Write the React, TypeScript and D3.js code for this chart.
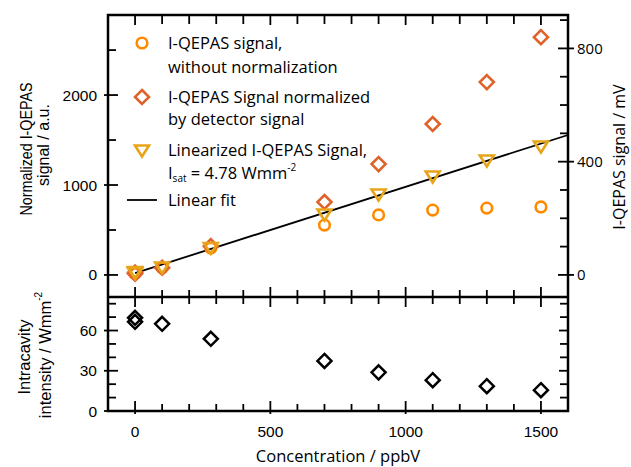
import * as d3 from 'd3';

// concentration in ppbV (two measurements at zero)
const concentration = [0, 0, 100, 280, 700, 900, 1100, 1300, 1500];
// I-QEPAS signal without normalization, mV (right axis)
const rawSignal = [5, 8, 25, 95, 176, 212, 229, 236, 240];
// normalized by detector signal, a.u.
const normalizedSignal = [14, 26, 80, 320, 811, 1233, 1678, 2144, 2644];
// linearized signal, a.u.
const linearizedSignal = [14, 26, 78, 295, 667, 889, 1089, 1267, 1422];
// intracavity intensity, W/mm^2
const intracavityIntensity = [69.5, 66.5, 65, 53.8, 37.3, 28.8, 23, 18.5, 15.5];

const fitIntercept = 20;
const fitSlope = 0.96;
const fitRange = [0, 1600];

const xTicks = [0, 500, 1000, 1500];
const leftTicks = [0, 1000, 2000];
const rightTicks = [0, 400, 800];
const intensityTicks = [0, 30, 60];

const ORANGE = '#ff8a00';
const RED = '#e0622a';
const GOLD = '#e8a418';
const tickFont = '"Liberation Sans", Arial, sans-serif';
const textFont = '"Open Sans", sans-serif';

export default function App() {
  const width = 631;
  const height = 467;
  const left = 108;
  const right = 568;
  const top = 15;
  const mid = 297;
  const bottom = 411;

  const x = d3.scaleLinear().domain([-100, 1600]).range([left, right]);
  const yL = d3.scaleLinear().domain([-245, 2890]).range([mid, top]);
  const yR = d3.scaleLinear().domain([-78, 918]).range([mid, top]);
  const yB = d3.scaleLinear().domain([0, 85]).range([bottom, mid]);

  const xMinor = d3.range(-100, 1601, 100).filter((v) => !xTicks.includes(v));
  const leftMinor = d3.range(0, 2900, 500).filter((v) => !leftTicks.includes(v));
  const rightMinor = d3.range(0, 918, 100).filter((v) => !rightTicks.includes(v));
  const bMinor = d3.range(10, 85, 10).filter((v) => !intensityTicks.includes(v));

  const fitLine = d3
    .line<number>()
    .x((d) => x(d))
    .y((d) => yL(fitIntercept + fitSlope * d));

  const diamond = (cx: number, cy: number, r: number) =>
    `M${cx},${cy - r}L${cx + r},${cy}L${cx},${cy + r}L${cx - r},${cy}Z`;
  const triangle = (cx: number, cy: number, w: number, h: number) =>
    `M${cx - w / 2},${cy - h / 2}L${cx + w / 2},${cy - h / 2}L${cx},${cy + h / 2}Z`;

  const sw = 1.8;
  const tick = (x1: number, y1: number, x2: number, y2: number, k: string) => (
    <line key={k} x1={x1} y1={y1} x2={x2} y2={y2} stroke='#000' strokeWidth={sw} />
  );

  return (
    <div>
      <style>{`body{margin:0}`}</style>
      <svg width={width} height={height} style={{ display: 'block', overflow: 'hidden' }}>
        <rect width={width} height={height} fill='#fff' />

        {/* frames */}
        <rect x={left} y={top} width={right - left} height={bottom - top} fill='none' stroke='#000' strokeWidth={2.5} />
        <line x1={left} x2={right} y1={mid} y2={mid} stroke='#000' strokeWidth={2.5} />

        {/* x ticks: top edge, middle, bottom edge */}
        {xTicks.map((v) => (
          <g key={'xm' + v}>
            {tick(x(v), top, x(v), top + 10, 't')}
            {tick(x(v), mid - 10, x(v), mid + 10, 'm')}
            {tick(x(v), bottom - 10, x(v), bottom + 3, 'b')}
          </g>
        ))}
        {xMinor.map((v) => (
          <g key={'xn' + v}>
            {tick(x(v), top, x(v), top + 9, 't')}
            {tick(x(v), mid - 7, x(v), mid + 7, 'm')}
            {tick(x(v), bottom - 7, x(v), bottom, 'b')}
          </g>
        ))}

        {/* left axis top panel */}
        {leftTicks.map((v) => tick(left - 4, yL(v), left + 10, yL(v), 'l' + v))}
        {leftMinor.map((v) => tick(left, yL(v), left + 8, yL(v), 'ln' + v))}
        {leftTicks.map((v) => (
          <text key={'lt' + v} x={97} y={yL(v) + 5.5} textAnchor='end' fontFamily={tickFont} fontSize={15.5}>
            {v}
          </text>
        ))}

        {/* right axis top panel */}
        {rightTicks.map((v) => tick(right - 10, yR(v), right + 6, yR(v), 'r' + v))}
        {rightMinor.map((v) => tick(right - 8, yR(v), right, yR(v), 'rn' + v))}
        {rightTicks.map((v) => (
          <text key={'rt' + v} x={577} y={yR(v) + 5.5} fontFamily={textFont} fontSize={15}>
            {v}
          </text>
        ))}

        {/* bottom panel y ticks */}
        {intensityTicks.map((v) => (
          <g key={'b' + v}>
            {tick(left - 4, yB(v), left + 10, yB(v), 'l')}
            {tick(right - 9, yB(v), right, yB(v), 'r')}
          </g>
        ))}
        {bMinor.map((v) => (
          <g key={'bn' + v}>
            {tick(left, yB(v), left + 8, yB(v), 'l')}
            {tick(right - 8, yB(v), right, yB(v), 'r')}
          </g>
        ))}
        {intensityTicks.map((v) => (
          <text key={'bt' + v} x={97} y={yB(v) + 5.5} textAnchor='end' fontFamily={tickFont} fontSize={15.5}>
            {v}
          </text>
        ))}

        {/* x tick labels */}
        {xTicks.map((v) => (
          <text key={'xt' + v} x={x(v)} y={437} textAnchor='middle' fontFamily={tickFont} fontSize={15.5}>
            {v}
          </text>
        ))}

        {/* fit line */}
        <path d={fitLine(fitRange) || ''} fill='none' stroke='#000' strokeWidth={1.8} />

        {/* top panel markers */}
        {concentration.map((c, i) => (
          <circle key={'c' + i} cx={x(c)} cy={yR(rawSignal[i])} r={5.3} fill='none' stroke={ORANGE} strokeWidth={2.6} />
        ))}
        {concentration.map((c, i) => (
          <path key={'d' + i} d={diamond(x(c), yL(normalizedSignal[i]), 7)} fill='none' stroke={RED} strokeWidth={2.6} />
        ))}
        {concentration.map((c, i) => (
          <path key={'t' + i} d={triangle(x(c), yL(linearizedSignal[i]), 14, 11)} fill='none' stroke={GOLD} strokeWidth={2.6} />
        ))}

        {/* bottom panel markers */}
        {concentration.map((c, i) => (
          <path key={'i' + i} d={diamond(x(c), yB(intracavityIntensity[i]), 7)} fill='none' stroke='#000' strokeWidth={2.5} />
        ))}

        {/* legend */}
        <g fontFamily={textFont} fontSize={16.5}>
          <circle cx={142} cy={43} r={5.3} fill='none' stroke={ORANGE} strokeWidth={2.6} />
          <text x={168} y={49}>I-QEPAS signal,</text>
          <text x={168} y={73}>without normalization</text>
          <path d={diamond(142, 97, 7)} fill='none' stroke={RED} strokeWidth={2.6} />
          <text x={168} y={103}>I-QEPAS Signal normalized</text>
          <text x={168} y={125}>by detector signal</text>
          <path d={triangle(142, 151, 14, 11)} fill='none' stroke={GOLD} strokeWidth={2.6} />
          <text x={168} y={156}>Linearized I-QEPAS Signal,</text>
          <text x={168} y={179}>
            I<tspan fontSize={10} dy={3}>sat</tspan>
            <tspan dy={-3}> = 4.78 Wmm</tspan>
            <tspan fontSize={10} dy={-8}>-2</tspan>
          </text>
          <line x1={127} x2={157} y1={200} y2={200} stroke='#000' strokeWidth={1.8} />
          <text x={168} y={206}>Linear fit</text>
        </g>

        {/* axis titles */}
        <text
          transform='translate(32,149) rotate(-90)'
          textAnchor='middle'
          fontFamily={tickFont}
          fontSize={16}
          textLength={133}
          lengthAdjust='spacingAndGlyphs'
        >
          Normalized I-QEPAS
        </text>
        <text transform='translate(49,145) rotate(-90)' textAnchor='middle' fontFamily={tickFont} fontSize={16}>
          signal / a.u.
        </text>
        <text transform='translate(30,357) rotate(-90)' textAnchor='middle' fontFamily={tickFont} fontSize={16.5}>
          Intracavity
        </text>
        <text transform='translate(51,355) rotate(-90)' textAnchor='middle' fontFamily={tickFont} fontSize={16.5}>
          intensity / Wmm<tspan fontSize={10} dy={-9}>-2</tspan>
        </text>
        <text transform='translate(625,157) rotate(-90)' textAnchor='middle' fontFamily={textFont} fontSize={16}>
          I-QEPAS signal / mV
        </text>
        <text x={338} y={462} textAnchor='middle' fontFamily={textFont} fontSize={16.5}>
          Concentration / ppbV
        </text>
      </svg>
    </div>
  );
}
